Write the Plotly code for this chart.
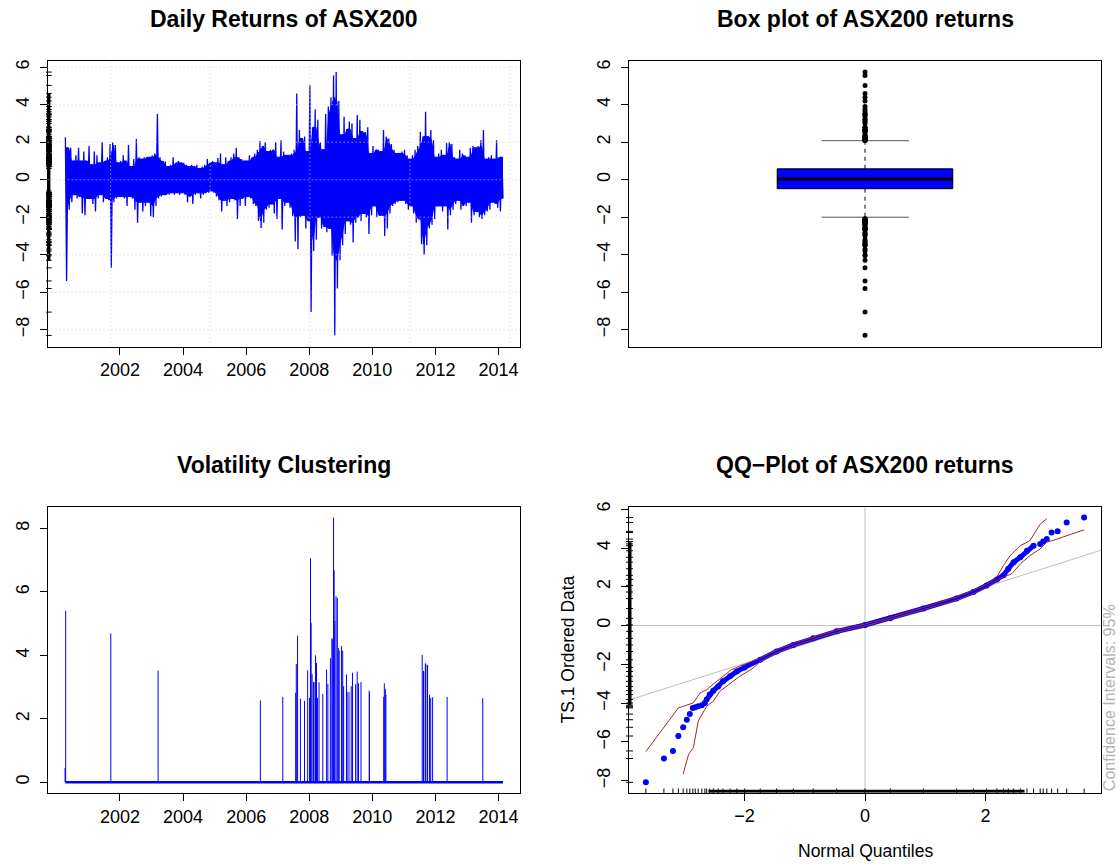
import plotly.graph_objects as go

W, H = 1119, 864
FONT = "Liberation Sans, Arial, Helvetica, sans-serif"

# ---------------- data ----------------
START_YEAR = 2000.25  # April 2000, first month of the series
# monthly highest / lowest daily return (%), Apr 2000 .. Feb 2014
ret_high = [
    2.26, 1.7, 1.7, 1.0, 1.3, 1.7, 1.0, 1.5, 1.0,
    1.8, 0.8, 1.5, 1.3, 0.9, 2.0, 1.0, 1.2, 1.9, 2.0, 1.85, 0.9,
    1.0, 1.3, 1.0, 1.85, 0.7, 1.1, 2.17, 1.2, 1.1, 1.2, 1.2, 1.2,
    1.3, 1.4, 3.5, 1.2, 1.0, 0.97, 0.7, 0.8, 1.2, 0.9, 1.0, 0.9,
    0.9, 0.8, 0.7, 0.8, 0.7, 0.8, 0.6, 0.7, 0.8, 1.1, 0.9, 1.0,
    0.9, 1.15, 1.4, 0.8, 1.2, 1.0, 1.2, 1.4, 1.7, 1.2, 1.1, 1.0,
    1.0, 1.3, 1.2, 1.4, 1.6, 2.07, 1.8, 2.0, 1.5, 1.6, 1.6, 2.0,
    1.2, 2.1, 1.5, 1.3, 1.3, 1.4, 1.6, 4.6, 2.65, 2.2, 2.3, 1.5,
    5.03, 2.8, 3.74, 3.2, 2.0, 1.6, 3.5, 3.9, 4.4, 5.56, 5.74, 4.2,
    2.4, 3.35, 2.7, 3.1, 3.0, 2.2, 3.45, 3.2, 2.6, 2.5, 2.8, 1.4,
    1.8, 1.6, 1.6, 1.5, 2.65, 2.3, 2.2, 1.9, 1.6, 1.4, 1.4, 1.5,
    1.6, 1.3, 1.1, 1.3, 1.6, 1.8, 2.56, 2.3, 3.62, 2.3, 2.65, 2.1,
    1.2, 1.4, 1.6, 1.3, 1.95, 2.0, 1.9, 1.2, 1.1, 1.6, 1.4, 1.3,
    1.2, 1.7, 1.8, 1.7, 1.8, 2.1, 2.65, 1.1, 1.2, 1.3, 1.1, 2.1,
    1.2, 1.2,
]
ret_low = [
    -5.4, -1.6, -1.2, -0.8, -1.0, -0.9, -1.8, -1.9, -1.0,
    -1.0, -1.3, -1.7, -1.0, -0.8, -1.2, -1.0, -1.1, -4.7, -1.2, -1.0, -0.9,
    -0.9, -1.0, -1.4, -0.9, -1.0, -1.6, -2.3, -1.2, -1.7, -1.4, -1.2, -1.95,
    -2.0, -1.4, -1.0, -0.9, -0.8, -0.8, -0.8, -0.7, -0.8, -0.7, -0.8, -0.7,
    -0.8, -1.2, -0.9, -1.3, -0.8, -0.7, -1.0, -0.8, -0.7, -0.7, -0.6, -0.7,
    -0.9, -1.1, -1.7, -1.1, -1.4, -1.2, -1.0, -1.1, -2.1, -1.4, -1.0, -1.4,
    -0.9, -1.0, -1.3, -1.4, -2.2, -2.58, -2.3, -1.6, -1.5, -1.3, -1.8, -2.1,
    -1.0, -2.65, -1.4, -1.2, -1.5, -1.95, -3.3, -3.7, -2.0, -1.9, -2.6, -2.2,
    -7.06, -3.8, -3.2, -2.0, -2.6, -2.5, -2.8, -2.6, -4.06, -8.3, -5.8, -4.3,
    -3.5, -2.9, -2.2, -2.4, -3.35, -2.3, -2.0, -2.2, -1.8, -2.0, -2.9, -1.9,
    -1.4, -2.0, -1.9, -1.9, -3.0, -2.6, -1.8, -1.4, -1.3, -1.2, -1.1, -1.1,
    -1.3, -1.6, -1.4, -1.8, -2.3, -2.1, -3.44, -4.0, -3.5, -2.6, -2.4, -2.1,
    -1.4, -1.4, -1.7, -1.4, -2.65, -1.9, -1.6, -1.3, -1.1, -1.6, -1.4, -1.4,
    -1.2, -2.3, -1.9, -1.7, -2.0, -2.1, -1.9, -1.7, -1.6, -1.2, -1.3, -1.5,
    -1.7, -1.0,
]
rug_core = [-4.3, 4.6]          # dense part of the return rug

year_ticks = [2002, 2004, 2006, 2008, 2010, 2012, 2014]
ret_ticks = [-8, -6, -4, -2, 0, 2, 4, 6]
grid_years = [2001.705, 2004.86, 2008.02, 2011.19, 2014.36]

# volatility clustering: dates (decimal years) and sizes of the large moves
vol_year = [2000.26, 2000.28, 2001.71, 2003.21, 2006.45, 2007.16, 2007.57, 2007.59,
            2007.63, 2007.72, 2007.85, 2007.95, 2008.01, 2008.04, 2008.06, 2008.09,
            2008.14, 2008.15, 2008.20, 2008.23, 2008.26, 2008.31, 2008.43, 2008.55,
            2008.59, 2008.67, 2008.72, 2008.73, 2008.77, 2008.79, 2008.81, 2008.85,
            2008.89, 2008.92, 2008.95, 2009.02, 2009.06, 2009.09, 2009.18, 2009.20,
            2009.26, 2009.33, 2009.37, 2009.47, 2009.52, 2009.56, 2009.64, 2009.90,
            2009.91, 2010.36, 2010.38, 2010.41, 2010.43, 2011.58, 2011.62, 2011.63,
            2011.68, 2011.69, 2011.74, 2011.75, 2011.81, 2011.85, 2011.91, 2012.37,
            2013.50]
vol_value = [0.45, 5.40, 4.69, 3.52, 2.58, 2.69, 2.82, 3.73,
             4.62, 2.64, 2.56, 3.53, 2.66, 7.06, 5.03, 3.41,
             3.16, 3.16, 4.00, 3.76, 2.66, 3.15, 2.78, 3.55,
             3.09, 3.91, 4.54, 4.50, 8.34, 6.68, 5.09, 5.86,
             5.81, 4.23, 4.15, 4.29, 4.15, 3.03, 3.40, 2.85,
             2.84, 3.03, 3.45, 3.09, 3.49, 3.12, 3.16, 2.89,
             2.83, 2.69, 3.12, 2.94, 2.77, 4.01, 3.51, 3.49,
             3.75, 3.73, 3.70, 3.70, 2.76, 2.66, 2.68, 2.69,
             2.65]
vol_ticks = [0, 2, 4, 6, 8]

# box plot statistics
box_q1, box_median, box_q3 = -0.48, 0.04, 0.58
box_lower_whisker, box_upper_whisker = -2.00, 2.08

# QQ plot: normal quantiles vs ordered returns
qq_theoretical = [-3.64, -3.34, -3.19, -3.10, -3.02, -2.96, -2.91, -2.86, -2.82, -2.77,
                  -2.71, -2.66, -2.63, -2.58, -2.52, -2.44, -2.36, -2.24, -2.13, -2.00,
                  -1.74, -1.47, -1.19, -0.86, -0.47, 0.00, 0.42, 0.97, 1.52, 1.80,
                  2.02, 2.19, 2.30, 2.38, 2.47, 2.58, 2.69, 2.80, 2.91, 2.96,
                  3.02, 3.10, 3.20, 3.35, 3.64]
qq_sample = [-8.09, -6.86, -6.47, -5.70, -5.25, -4.86, -4.57, -4.25, -4.21, -4.16,
             -4.11, -4.00, -3.82, -3.56, -3.36, -3.14, -2.88, -2.62, -2.37, -2.16,
             -1.77, -1.34, -1.00, -0.66, -0.30, 0.03, 0.37, 0.88, 1.39, 1.73,
             2.07, 2.38, 2.59, 2.93, 3.27, 3.52, 3.86, 4.12, 4.21, 4.33,
             4.46, 4.80, 4.86, 5.32, 5.57]
qq_dense_range = [-2.64, 2.82]
qq_line_intercept, qq_line_slope = 0.02, 0.985
ci_upper_x = [-3.64, -3.10, -3.01, -2.85, -2.74, -2.63, -2.52, -2.36, -2.22, -2.02,
              -1.74, -1.47, -1.19, -0.86, -0.47, 0.00, 0.42, 0.97, 1.52, 1.80,
              2.02, 2.19, 2.30, 2.41, 2.58, 2.74, 2.91, 3.02]
ci_upper_y = [-6.50, -4.25, -4.16, -3.99, -3.48, -3.31, -3.02, -2.62, -2.28, -2.02,
              -1.68, -1.26, -0.93, -0.60, -0.24, 0.08, 0.42, 0.94, 1.47, 1.82,
              2.12, 2.50, 3.10, 3.61, 4.12, 4.38, 5.23, 5.52]
ci_lower_x = [-3.02, -2.93, -2.85, -2.77, -2.63, -2.52, -2.41, -2.24, -2.08, -1.86,
              -1.74, -1.47, -1.19, -0.86, -0.47, 0.00, 0.42, 0.97, 1.52, 1.80,
              2.02, 2.13, 2.30, 2.44, 2.58, 2.74, 2.91, 3.02, 3.19, 3.64]
ci_lower_y = [-7.66, -6.64, -6.30, -4.93, -4.16, -3.90, -3.39, -2.97, -2.62, -2.20,
              -1.86, -1.42, -1.07, -0.72, -0.36, -0.02, 0.32, 0.82, 1.31, 1.64,
              1.95, 2.24, 2.50, 2.67, 3.18, 3.61, 3.95, 4.30, 4.46, 4.94]
qq_rug_core_y = [-4.1, 4.3]
qq_rug_core_x = [-2.6, 2.65]
qq_x_ticks = [-2, 0, 2]
qq_y_ticks = [-8, -6, -4, -2, 0, 2, 4, 6]

# ---------------- geometry ----------------
def dx(a, b):
    return [a / W, b / W]

def dy(top, bottom):
    return [1 - bottom / H, 1 - top / H]

XL, XR = dx(47.7, 520), dx(629, 1101)
YT = dy(55, 343)
YB3 = dy(505, 792.7)
YB4 = dy(505, 792.3)

X_RANGE = [1999.71, 2014.68]
RET_RANGE = [-8.9, 6.35]
QX = [-3.92, 3.92]
QY = [-8.63, 6.09]

# pixel -> data offsets for the rug ticks
PX_YEAR = (X_RANGE[1] - X_RANGE[0]) / (520 - 47.7)
PX_QX = (QX[1] - QX[0]) / (1101 - 629)
PX_QY = (QY[1] - QY[0]) / (792.3 - 505)

BLUE = "#0000FF"
tickfont = dict(family=FONT, size=18, color="black")

fig = go.Figure()

# ---- panel 1: daily returns ----
n = len(ret_high)
hi_x = [START_YEAR + (i + 0.25) / 12 for i in range(n)]
lo_x = [START_YEAR + (i + 0.70) / 12 for i in range(n)]
mid_x = [START_YEAR + (i + 0.5) / 12 for i in range(n)]
# dense core of the series: rolling 3-month minimum of the extremes
core_hi = [min(ret_high[max(0, i - 1):i + 2]) for i in range(n)]
core_lo = [max(ret_low[max(0, i - 1):i + 2]) for i in range(n)]
fig.add_trace(go.Scatter(x=mid_x + mid_x[::-1], y=core_hi + core_lo[::-1], mode="lines",
                         fill="toself", fillcolor=BLUE, line=dict(color=BLUE, width=1),
                         xaxis="x", yaxis="y", hoverinfo="skip"))
ret_x, ret_y = [], []
for a, h, b, l in zip(hi_x, ret_high, lo_x, ret_low):
    ret_x += [a, b]
    ret_y += [h, l]
fig.add_trace(go.Scatter(x=ret_x, y=ret_y, mode="lines", line=dict(color=BLUE, width=1.3),
                         xaxis="x", yaxis="y", hoverinfo="skip"))
# rug on left axis
rug_vals = ret_high + ret_low
rx = X_RANGE[0] + 1.2 * PX_YEAR
fig.add_trace(go.Scatter(x=[rx] * len(rug_vals), y=rug_vals, mode="markers",
                         marker=dict(symbol="line-ew", size=4, line=dict(color="black", width=1)),
                         xaxis="x", yaxis="y", cliponaxis=False, hoverinfo="skip"))
fig.add_trace(go.Scatter(x=[rx, rx], y=rug_core, mode="lines",
                         line=dict(color="black", width=3), xaxis="x", yaxis="y",
                         cliponaxis=False, hoverinfo="skip"))

# ---- panel 2: box plot ----
BX0, BX1, CX0, CX1, MID = 0.314, 0.686, 0.408, 0.593, 0.5
fig.add_trace(go.Scatter(x=[MID, MID], y=[box_q3, box_upper_whisker], mode="lines",
                         line=dict(color="black", width=1, dash="4px,4px"), xaxis="x2", yaxis="y2"))
fig.add_trace(go.Scatter(x=[MID, MID], y=[box_q1, box_lower_whisker], mode="lines",
                         line=dict(color="black", width=1, dash="4px,4px"), xaxis="x2", yaxis="y2"))
for v in (box_upper_whisker, box_lower_whisker):
    fig.add_trace(go.Scatter(x=[CX0, CX1], y=[v, v], mode="lines",
                             line=dict(color="#555555", width=1), xaxis="x2", yaxis="y2"))
fig.add_trace(go.Scatter(x=[BX0, BX1, BX1, BX0, BX0], y=[box_q1, box_q1, box_q3, box_q3, box_q1],
                         mode="lines", fill="toself", fillcolor=BLUE,
                         line=dict(color="black", width=1), xaxis="x2", yaxis="y2"))
fig.add_trace(go.Scatter(x=[BX0, BX1], y=[box_median, box_median], mode="lines",
                         line=dict(color="black", width=3), xaxis="x2", yaxis="y2"))
outliers = [v for v in ret_high + ret_low if v > box_upper_whisker or v < box_lower_whisker]
fig.add_trace(go.Scatter(x=[MID] * len(outliers), y=outliers, mode="markers",
                         marker=dict(color="black", size=5), xaxis="x2", yaxis="y2"))

# ---- panel 3: volatility clustering ----
vx, vy = [], []
for d, v in zip(vol_year, vol_value):
    vx += [d, d, None]
    vy += [0, v, None]
fig.add_trace(go.Scatter(x=vx, y=vy, mode="lines", line=dict(color=BLUE, width=1),
                         xaxis="x3", yaxis="y3", hoverinfo="skip"))
fig.add_trace(go.Scatter(x=[min(ret_x), max(ret_x)], y=[0, 0], mode="lines",
                         line=dict(color=BLUE, width=2.5), xaxis="x3", yaxis="y3"))

# ---- panel 4: QQ plot ----
fig.add_trace(go.Scatter(x=QX, y=[qq_line_intercept + qq_line_slope * q for q in QX], mode="lines",
                         line=dict(color="#BEBEBE", width=1), xaxis="x4", yaxis="y4"))
dense = [(a, b) for a, b in zip(qq_theoretical, qq_sample) if qq_dense_range[0] <= a <= qq_dense_range[1]]
fig.add_trace(go.Scatter(x=[a for a, _ in dense], y=[b for _, b in dense], mode="lines",
                         line=dict(color=BLUE, width=5), xaxis="x4", yaxis="y4"))
fig.add_trace(go.Scatter(x=qq_theoretical, y=qq_sample, mode="markers",
                         marker=dict(color=BLUE, size=6), xaxis="x4", yaxis="y4"))
fig.add_trace(go.Scatter(x=ci_upper_x, y=ci_upper_y, mode="lines",
                         line=dict(color="#A52A2A", width=1), xaxis="x4", yaxis="y4"))
fig.add_trace(go.Scatter(x=ci_lower_x, y=ci_lower_y, mode="lines",
                         line=dict(color="#A52A2A", width=1), xaxis="x4", yaxis="y4"))
# rugs
qrx = QX[0] + 0.5 * PX_QX
fig.add_trace(go.Scatter(x=[qrx] * len(qq_sample), y=qq_sample, mode="markers",
                         marker=dict(symbol="line-ew", size=5, line=dict(color="black", width=1)),
                         xaxis="x4", yaxis="y4", cliponaxis=False))
fig.add_trace(go.Scatter(x=[qrx, qrx], y=qq_rug_core_y, mode="lines",
                         line=dict(color="black", width=4), xaxis="x4", yaxis="y4", cliponaxis=False))
qry = QY[0] + 1.5 * PX_QY
fig.add_trace(go.Scatter(x=qq_theoretical, y=[qry] * len(qq_theoretical), mode="markers",
                         marker=dict(symbol="line-ns", size=4, line=dict(color="black", width=1)),
                         xaxis="x4", yaxis="y4", cliponaxis=False))
fig.add_trace(go.Scatter(x=qq_rug_core_x, y=[qry, qry], mode="lines",
                         line=dict(color="black", width=3), xaxis="x4", yaxis="y4", cliponaxis=False))

# ---------------- axes ----------------
def xaxis(domain, rng, anchor, tickvals, show=True):
    d = dict(domain=domain, range=rng, anchor=anchor, showline=True, mirror=True,
             linecolor="black", linewidth=1, showgrid=False, zeroline=False,
             tickfont=tickfont, fixedrange=True)
    if show:
        d.update(tickmode="array", tickvals=tickvals, ticks="outside", ticklen=7,
                 tickcolor="black", ticklabelstandoff=0)
    else:
        d.update(showticklabels=False, ticks="")
    return d

def yaxis(domain, rng, anchor, tickvals):
    return dict(domain=domain, range=rng, anchor=anchor, showline=True, mirror=True,
                linecolor="black", linewidth=1, showgrid=False, zeroline=False,
                tickmode="array", tickvals=tickvals, ticks="outside", ticklen=7,
                tickcolor="black", tickangle=-90, tickfont=tickfont,
                ticklabelstandoff=4, fixedrange=True)

fig.update_layout(
    width=W, height=H, margin=dict(l=0, r=0, t=0, b=0),
    paper_bgcolor="white", plot_bgcolor="white", showlegend=False,
    xaxis=xaxis(XL, X_RANGE, "y", year_ticks),
    yaxis=yaxis(YT, RET_RANGE, "x", ret_ticks),
    xaxis2=xaxis(XR, [0, 1], "y2", [], show=False),
    yaxis2=yaxis(YT, RET_RANGE, "x2", ret_ticks),
    xaxis3=xaxis(XL, X_RANGE, "y3", year_ticks),
    yaxis3=yaxis(YB3, [-0.344, 8.66], "x3", vol_ticks),
    xaxis4=xaxis(XR, QX, "y4", qq_x_ticks),
    yaxis4=yaxis(YB4, QY, "x4", qq_y_ticks),
)

# grid for panel 1 (dotted, drawn over the data)
GRID = dict(color="#D3D3D3", width=1, dash="1px,3px")
shapes = []
for v in ret_ticks:
    shapes.append(dict(type="line", xref="x domain", yref="y", x0=0, x1=1, y0=v, y1=v,
                       line=GRID, layer="above"))
for g in grid_years:
    shapes.append(dict(type="line", xref="x", yref="y domain", x0=g, x1=g, y0=0, y1=1,
                       line=GRID, layer="above"))
# QQ reference axes
shapes.append(dict(type="line", xref="x4 domain", yref="y4", x0=0, x1=1, y0=0, y1=0,
                   line=dict(color="#BEBEBE", width=1), layer="below"))
shapes.append(dict(type="line", xref="x4", yref="y4 domain", x0=0, x1=0, y0=0, y1=1,
                   line=dict(color="#BEBEBE", width=1), layer="below"))
fig.update_layout(shapes=shapes)

ann = []
for text, xc, yc in [("<b>Daily Returns of ASX200</b>", 283.8, 13),
                     ("<b>Box plot of ASX200 returns</b>", 865, 13),
                     ("<b>Volatility Clustering</b>", 283.8, 462),
                     ("<b>QQ\u2212Plot of ASX200 returns</b>", 865, 462)]:
    ann.append(dict(text=text, x=xc / W, y=1 - yc / H, xref="paper", yref="paper",
                    xanchor="center", yanchor="middle", showarrow=False,
                    font=dict(family=FONT, size=23, color="black")))
ann.append(dict(text="Normal Quantiles", x=865 / W, y=1 - 851 / H, xref="paper", yref="paper",
                xanchor="center", yanchor="middle", showarrow=False,
                font=dict(family=FONT, size=17.5, color="black")))
ann.append(dict(text="TS.1 Ordered Data", x=567 / W, y=1 - 648 / H, xref="paper", yref="paper",
                xanchor="center", yanchor="middle", showarrow=False, textangle=-90,
                font=dict(family=FONT, size=17.5, color="black")))
ann.append(dict(text="Confidence Intervals: 95%", x=1109 / W, y=1 - 697 / H, xref="paper",
                yref="paper", xanchor="center", yanchor="middle", showarrow=False, textangle=-90,
                font=dict(family=FONT, size=16, color="#B3B3B3")))
fig.update_layout(annotations=ann)

fig.write_html("out.html", config={"displayModeBar": False},
               post_script="document.body.style.margin='0';document.body.style.padding='0';"
                           "document.body.style.overflow='hidden';")
